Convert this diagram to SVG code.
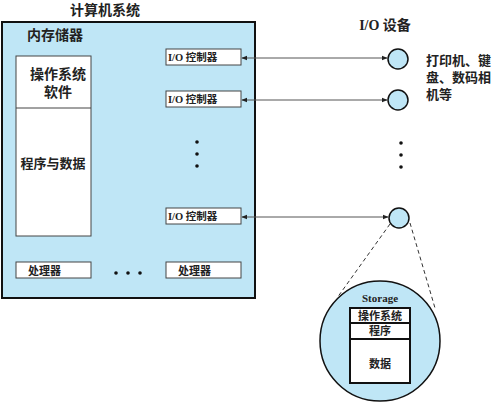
<svg xmlns="http://www.w3.org/2000/svg" width="500" height="402" viewBox="0 0 500 402">
<defs>
<style>
.t{font-family:"Liberation Serif","Noto Sans CJK SC",serif;font-weight:bold;fill:#222}
.box{fill:#fff;stroke:#444;stroke-width:1}
.dev{fill:#bfe6f6;stroke:#111;stroke-width:1.5}
.conn{stroke:#555;stroke-width:1;fill:none}
.dash{stroke:#333;stroke-width:1;stroke-dasharray:4,3;fill:none}
</style>
<marker id="ah" viewBox="0 0 10 10" refX="9" refY="5" markerWidth="6" markerHeight="6" orient="auto-start-reverse">
<path d="M0,1 L10,5 L0,9 z" fill="#222"/>
</marker>
</defs>
<rect width="500" height="402" fill="#fff"/>
<g id="computer">
<text class="t" x="105" y="15" font-size="14" text-anchor="middle">计算机系统</text>
<rect x="2" y="22" width="253" height="276" fill="#bfe6f6" stroke="#111" stroke-width="2"/>
<text class="t" x="27" y="40" font-size="14">内存储器</text>
</g>
<g id="memory">
<rect class="box" x="16" y="56" width="75" height="180"/>
<line x1="16" y1="108" x2="91" y2="108" stroke="#444"/>
<text class="t" x="58" y="79" font-size="14" text-anchor="middle">操作系统</text>
<text class="t" x="58" y="97" font-size="14" text-anchor="middle">软件</text>
<text class="t" x="53" y="168" font-size="13" text-anchor="middle">程序与数据</text>
</g>
<g id="ioc1"><rect class="box" x="166" y="49" width="75" height="16"/><text class="t" x="168" y="61" font-size="10.5">I/O 控制器</text></g>
<g id="ioc2"><rect class="box" x="166" y="91" width="75" height="16"/><text class="t" x="168" y="103" font-size="10.5">I/O 控制器</text></g>
<g id="ioc3"><rect class="box" x="166" y="208" width="75" height="16"/><text class="t" x="168" y="220" font-size="10.5">I/O 控制器</text></g>
<g id="vdots1" fill="#111"><circle cx="197" cy="142" r="1.8"/><circle cx="197" cy="154" r="1.8"/><circle cx="197" cy="166" r="1.8"/></g>
<g id="cpu1"><rect class="box" x="16" y="262" width="75" height="16"/><text class="t" x="28" y="275" font-size="11">处理器</text></g>
<g id="cpu2"><rect class="box" x="166" y="262" width="75" height="16"/><text class="t" x="178" y="275" font-size="11">处理器</text></g>
<g id="hdots" fill="#111"><circle cx="116" cy="273" r="1.8"/><circle cx="128" cy="273" r="1.8"/><circle cx="140" cy="273" r="1.8"/></g>
<g id="devices">
<text class="t" x="385" y="30" font-size="14" text-anchor="middle">I/O 设备</text>
<circle class="dev" cx="398" cy="59" r="10"/>
<circle class="dev" cx="398" cy="100" r="10"/>
<circle class="dev" cx="399" cy="218" r="10"/>
<text class="t" x="426" y="65" font-size="13">打印机、键</text>
<text class="t" x="426" y="82" font-size="13">盘、数码相</text>
<text class="t" x="426" y="99" font-size="13">机等</text>
</g>
<g id="vdots2" fill="#111"><circle cx="401" cy="143" r="1.8"/><circle cx="401" cy="155" r="1.8"/><circle cx="401" cy="167" r="1.8"/></g>
<g id="connectors">
<line class="conn" x1="242" y1="58" x2="387" y2="58" marker-start="url(#ah)" marker-end="url(#ah)"/>
<line class="conn" x1="242" y1="100" x2="387" y2="100" marker-start="url(#ah)" marker-end="url(#ah)"/>
<line class="conn" x1="242" y1="217" x2="388" y2="217" marker-start="url(#ah)" marker-end="url(#ah)"/>
<line class="dash" x1="390" y1="224" x2="337" y2="298"/>
<line class="dash" x1="410" y1="223" x2="435" y2="308"/>
</g>
<g id="storage">
<circle class="dev" cx="380" cy="341" r="60" stroke-width="2"/>
<text class="t" x="380" y="302" font-size="11" text-anchor="middle">Storage</text>
<rect x="350" y="308" width="60" height="75" fill="#fff" stroke="#111" stroke-width="2"/>
<line x1="350" y1="323" x2="410" y2="323" stroke="#111" stroke-width="2"/>
<line x1="350" y1="339" x2="410" y2="339" stroke="#111" stroke-width="2"/>
<text class="t" x="380" y="320" font-size="11" text-anchor="middle">操作系统</text>
<text class="t" x="380" y="335" font-size="11" text-anchor="middle">程序</text>
<text class="t" x="380" y="368" font-size="11" text-anchor="middle">数据</text>
</g>
</svg>
